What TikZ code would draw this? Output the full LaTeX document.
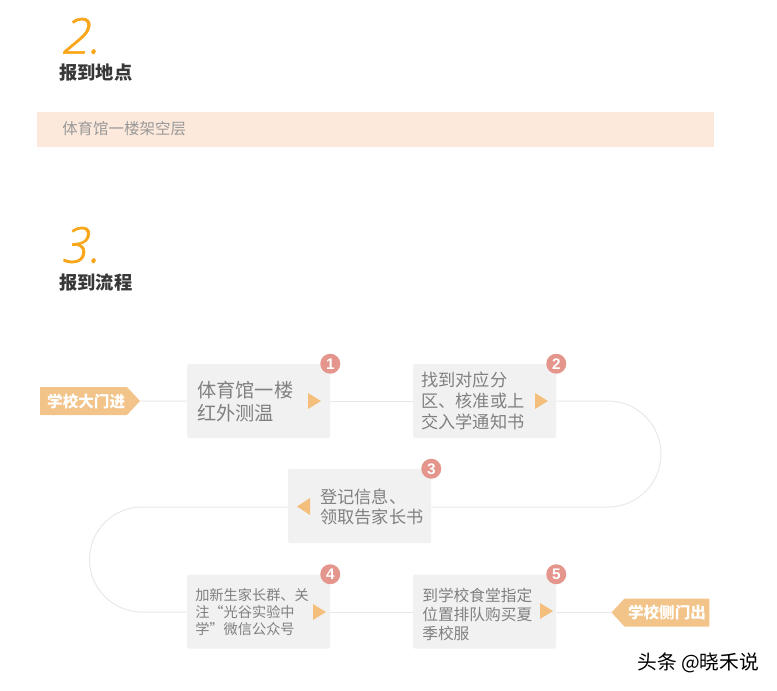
\documentclass[tikz,border=0pt]{standalone}
\usepackage{fontspec}
\setmainfont{Noto Sans CJK SC}
\newfontfamily\numfont[ItalicFont={* Light Italic},ItalicFeatures={FakeBold=1.2,FakeSlant=0.08}]{Open Sans}
\newfontfamily\badgefont{Liberation Sans}
\usetikzlibrary{shapes.symbols}
\newcommand{\fs}[2]{\fontsize{#1}{#2}\selectfont}
\definecolor{tagorange}{HTML}{F2C48A}
\definecolor{arrowgold}{HTML}{F4BE7C}
\definecolor{badgered}{HTML}{E4968C}
\definecolor{titleorange}{HTML}{F9A61A}
\definecolor{bandpeach}{HTML}{FDE9DC}
\definecolor{boxgray}{HTML}{F1F1F1}
\definecolor{pathgray}{HTML}{E8E8E8}
\tikzset{
    stepbox/.style={fill=boxgray,rounded corners=1.5pt,minimum width=107.25pt,minimum height=55.5pt,inner sep=0},
    boxtext/.style={anchor=west,align=left,inner sep=0,text=black!50},
    badge/.style={circle,fill=badgered,minimum size=15pt,inner sep=0,text=white,font=\badgefont\bfseries\fs{11.5}{11.5}},
    gatetag/.style={signal,signal from=nowhere,fill=tagorange,text=white,inner sep=0,minimum height=21pt,font=\bfseries\fs{11.7}{12}},
    pathline/.style={draw=pathgray,line width=0.75pt},
    stepmark/.style={fill=arrowgold},
    bigno/.style={anchor=west,inner sep=0,text=titleorange,font=\numfont\itshape\fs{37}{37}},
    heading/.style={anchor=west,inner sep=0,text=black!78,font=\bfseries\fs{13.7}{14}}
}

\begin{document}
\begin{tikzpicture}[x=0.75pt,y=-0.75pt]
    \useasboundingbox (0,0) rectangle (777,690);

    % section 2
    \node[bigno] (no2) at (62,36) {2.};
    \node[heading] (head2) at (59,73) {报到地点};
    \node[fill=bandpeach,minimum width=507.75pt,minimum height=26.25pt,inner sep=0] (band) at (375.5,129.5) {};
    \node[anchor=west,inner sep=0,text=black!40,font=\fs{11.6}{12}] (place) at (62,129) {体育馆一楼架空层};

    % section 3
    \node[bigno] (no3) at (62,245) {3.};
    \node[heading] (head3) at (59,283) {报到流程};

    % steps
    \node[stepbox] (box1) at (258.5,401) {};
    \node[stepbox] (box2) at (484.5,401) {};
    \node[stepbox] (box3) at (359.5,506) {};
    \node[stepbox] (box4) at (258.5,611.5) {};
    \node[stepbox] (box5) at (484.5,611.5) {};

    % gates
    \node[gatetag,signal to=east,signal pointer angle=94,minimum width=75pt] (gatein) at (83.5,401) {\hspace*{4pt}学校大门进};
    \node[gatetag,signal to=west,signal pointer angle=94,minimum width=73.5pt] (gateout) at (667,612.5) {学校侧门出};

    % path
    \coordinate (turnA) at (608,401);
    \coordinate (turnB) at (142,507);
    \draw[pathline] (gatein) -- (box1);
    \draw[pathline] (box1) -- (box2);
    \draw[pathline] (box2.east) -- (turnA) arc [start angle=-90, end angle=90, radius=53] -- (box3.east |- turnB);
    \draw[pathline] (box3.west |- turnB) -- (turnB) arc [start angle=-90, end angle=-270, radius=52.5] -- (box4.west |- 0,612);
    \draw[pathline] (box4.east |- 0,612) -- (box5.west |- 0,612);
    \draw[pathline] (box5.east |- 0,612) -- (gateout.west |- 0,612);

    % step texts
    \node[boxtext,font=\fs{14.4}{17.2}] (text1) at (197,401.5) {体育馆一楼\\红外测温};
    \node[boxtext,font=\fs{12.9}{15.8}] (text2) at (421,400.5) {找到对应分\\区、核准或上\\交入学通知书};
    \node[boxtext,font=\fs{12.9}{15}] (text3) at (320,506.5) {登记信息、\\领取告家长书};
    \node[boxtext,font=\fs{10.65}{12.8}] (text4) at (195,612) {加新生家长群、关\\注“光谷实验中\\学”微信公众号};
    \node[boxtext,font=\fs{11.8}{14.2}] (text5) at (422,614.5) {到学校食堂指定\\位置排队购买夏\\季校服};

    % step marks
    \fill[stepmark] (308,393) -- (321,401) -- (308,409) -- cycle;
    \fill[stepmark] (535,393) -- (548,401) -- (535,409) -- cycle;
    \fill[stepmark] (310,498) -- (297,506.5) -- (310,515) -- cycle;
    \fill[stepmark] (313,604) -- (326,612) -- (313,620) -- cycle;
    \fill[stepmark] (540,603) -- (553,611) -- (540,619) -- cycle;

    % badges
    \foreach \n in {1,...,5}
        \node[badge] (badge\n) at (box\n.north east) {\n};

    % watermark
    \node[anchor=west,inner sep=0,font=\fs{14.8}{15}] (mark) at (637,663) {头条 @晓禾说};
\end{tikzpicture}
\end{document}
